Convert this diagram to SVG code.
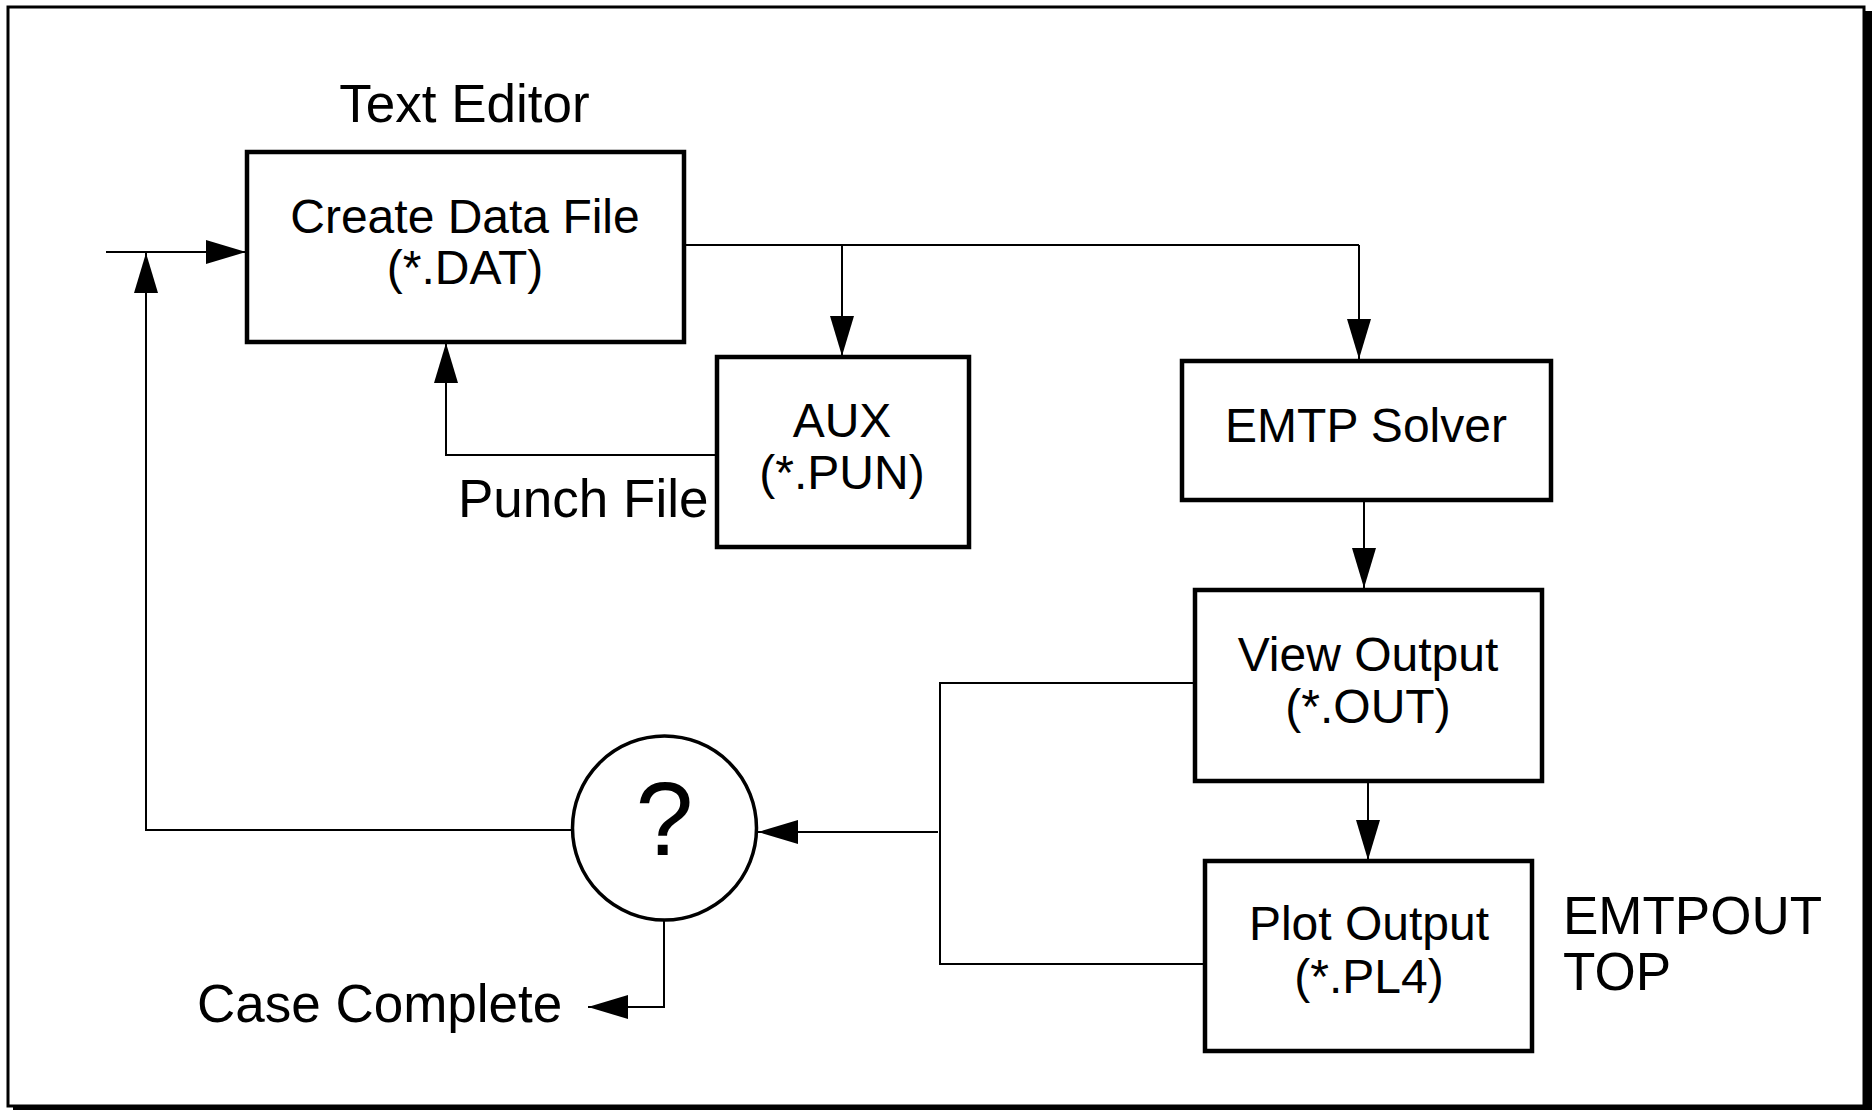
<svg xmlns="http://www.w3.org/2000/svg" width="1875" height="1110" viewBox="0 0 1875 1110">
<style>
.box{fill:#fff;stroke:#000;stroke-width:4.5}
.ln{fill:none;stroke:#000;stroke-width:2}
.arr{marker-end:url(#ah)}
text{font-family:"Liberation Sans",Arial,Helvetica,sans-serif;fill:#000}
.in{font-size:48px;text-anchor:middle}
.lb{font-size:53px}
</style>
<defs>
<marker id="ah" markerUnits="userSpaceOnUse" markerWidth="42" markerHeight="26" refX="40" refY="12" orient="auto" viewBox="0 0 42 26">
<path d="M0,0 L40,12 L0,24 z" fill="#000"/>
</marker>
</defs>
<rect x="13" y="11" width="1859" height="1099" fill="#000"/>
<rect x="8" y="7" width="1856" height="1099" fill="#fff" stroke="#000" stroke-width="3"/>

<g id="connectors">
<path class="ln arr" d="M106,252 H246"/>
<path class="ln arr" d="M572,830 H146 V253"/>
<path class="ln" d="M684,245 H1359"/>
<path class="ln arr" d="M842,245 V356"/>
<path class="ln arr" d="M1359,245 V359"/>
<path class="ln arr" d="M717,455 H446 V343"/>
<path class="ln arr" d="M1364,500 V588"/>
<path class="ln arr" d="M1368,781 V860"/>
<path class="ln" d="M1194,683 H940 V964 H1210"/>
<path class="ln arr" d="M938,832 H758"/>
<path class="ln arr" d="M664,920 V1007 H588"/>
</g>

<g id="label-text-editor"><text class="lb" x="464.5" y="122" text-anchor="middle">Text Editor</text></g>
<g id="node-create">
<rect class="box" x="247" y="152" width="437" height="190"/>
<text class="in" x="465" y="233">Create Data File</text>
<text class="in" x="465" y="284">(*.DAT)</text>
</g>
<g id="node-aux">
<rect class="box" x="717" y="357" width="252" height="190"/>
<text class="in" x="842" y="437">AUX</text>
<text class="in" x="842" y="489">(*.PUN)</text>
</g>
<g id="label-punch"><text class="lb" x="458" y="517">Punch File</text></g>
<g id="node-emtp">
<rect class="box" x="1182" y="361" width="369" height="139"/>
<text class="in" x="1366" y="442">EMTP Solver</text>
</g>
<g id="node-view">
<rect class="box" x="1195" y="590" width="347" height="191"/>
<text class="in" x="1368" y="671">View Output</text>
<text class="in" x="1368" y="723">(*.OUT)</text>
</g>
<g id="node-plot">
<rect class="box" x="1205" y="861" width="327" height="190"/>
<text class="in" x="1369" y="940">Plot Output</text>
<text class="in" x="1369" y="993">(*.PL4)</text>
</g>
<g id="label-emtpout">
<text class="lb" x="1563" y="934">EMTPOUT</text>
<text class="lb" x="1563" y="990">TOP</text>
</g>
<g id="node-decision">
<circle cx="664.5" cy="828" r="92" fill="#fff" stroke="#000" stroke-width="3.5"/>
<text x="664.5" y="855" font-size="104" text-anchor="middle">?</text>
</g>
<g id="label-case"><text class="lb" x="197" y="1022">Case Complete</text></g>
</svg>
